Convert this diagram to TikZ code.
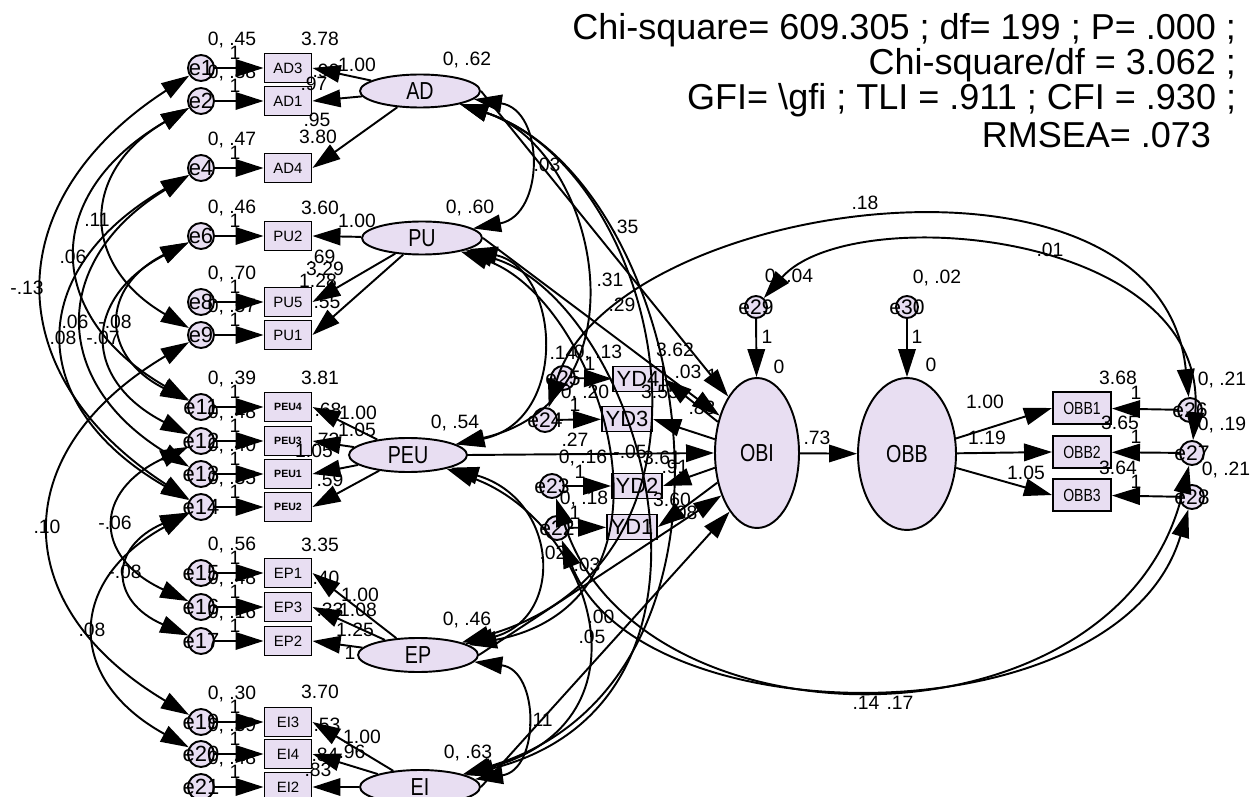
\documentclass[tikz,border=0pt]{standalone}
\usepackage{fontspec}
\setmainfont{Liberation Sans}
\newfontfamily\narrowfont[FakeStretch=0.8]{Liberation Sans}
\usetikzlibrary{arrows.meta,shapes.geometric}
\definecolor{lav}{RGB}{232,222,242}
\begin{document}
\begin{tikzpicture}[x=0.02cm,y=-0.02cm,line width=1.1pt,
  >={Triangle[length=5.6mm,width=3.5mm]},
  every node/.style={font=\fontsize{11}{12}\selectfont, inner sep=0pt},
  lat/.style={ellipse,draw,fill=lav,minimum width=24mm,minimum height=6.6mm,font=\narrowfont\fontsize{14}{15}\selectfont},
  big/.style={ellipse,draw,fill=lav,minimum width=16.8mm,minimum height=30mm,font=\narrowfont\fontsize{14}{15}\selectfont},
  obs/.style={rectangle,draw,fill=lav,minimum width=9.4mm,minimum height=5.8mm,font=\fontsize{8.5}{9}\selectfont},
  pobs/.style={obs,font=\fontsize{6}{7}\selectfont\bfseries},
  yd/.style={rectangle,draw,fill=lav,minimum width=10mm,minimum height=5mm,font=\fontsize{12.5}{13}\selectfont},
  ob/.style={rectangle,draw,fill=lav,minimum width=11.6mm,minimum height=6.4mm,font=\narrowfont\fontsize{10}{11}\selectfont},
  err/.style={circle,draw,fill=lav,minimum size=5.2mm,label={[font=\fontsize{12.5}{13}\selectfont]center:#1}},
  serr/.style={circle,draw,fill=lav,minimum size=4.6mm,label={[font=\fontsize{12}{13}\selectfont]center:#1}},
  head/.style={anchor=east,font=\fontsize{20.5}{22}\selectfont}
]
\fill[white] (0,0) rectangle (1251,797);
\useasboundingbox (0,0) rectangle (1251,797);

% header
\node[head] (h1) at (1237,30) {Chi-square= 609.305 ; df= 199 ; P= .000 ;};
\node[head] (h2) at (1237,65) {Chi-square/df = 3.062 ;};
\node[head] (h3) at (1237,100) {GFI= \textbackslash gfi ; TLI = .911 ; CFI = .930 ;};
\node[head] (h4) at (1212,135) {RMSEA= .073};

% latent variables
\node[lat] (AD) at (420,91) {AD};
\node[lat] (PU) at (422,238) {PU};
\node[lat,minimum width=23.6mm,minimum height=6.8mm] (PEU) at (408,455) {PEU};
\node[lat,minimum height=6.8mm] (EP) at (418,655) {EP};
\node[lat,minimum height=6.8mm] (EI) at (420,787) {EI};
\node[big] (OBI) at (757,453) {OBI};
\node[big,minimum width=19.6mm,minimum height=30.4mm] (OBB) at (907,454) {OBB};

% left indicators and errors
\foreach \n/\b/\y/\v in {1/AD3/68/.45, 2/AD1/101/.38, 4/AD4/168/.47, 6/PU2/236/.46, 8/PU5/302/.70, 9/PU1/335/.57,
  15/EP1/573/.56, 16/EP3/607/.48, 17/EP2/641/.16, 19/EI3/722/.30, 20/EI4/754/.39, 21/EI2/787/.48} {
  \node[err=e\n] (e\n) at (201,\y) {};
  \node[obs] (\b) at (288,\y) {\b};
  \draw[->] (e\n) -- (\b);
}
\foreach \n/\b/\y/\v in {11/PEU4/407/.39, 12/PEU3/441/.48, 13/PEU1/474/.40, 14/PEU2/507/.35} {
  \node[err=e\n] (e\n) at (201,\y) {};
  \node[pobs] (\b) at (288,\y) {\b};
  \draw[->] (e\n) -- (\b);
}

% loadings
\foreach \l/\b in {AD/AD3, AD/AD1, AD/AD4, PU/PU2, PU/PU5, PU/PU1, PEU/PEU4, PEU/PEU3, PEU/PEU1, PEU/PEU2,
  EP/EP1, EP/EP3, EP/EP2, EI/EI3, EI/EI4, EI/EI2}
  \draw[->] (\l) -- (\b.east);

% error covariances on the left
\draw[<->] (e1) .. controls (-3,200) and (-3,375) .. (e14);
\draw[<->] (e2) .. controls (42,193) and (42,315) .. (e11);
\draw[<->] (e2) .. controls (80,171) and (80,265) .. (e9);
\draw[<->] (e4) .. controls (50,260) and (50,382) .. (e13);
\draw[<->] (e6) .. controls (100,287) and (100,356) .. (e11);
\draw[<->] (e4) .. controls (24,270) and (24,405) .. (e14);
\draw[<->] (e6) .. controls (82,298) and (82,380) .. (e12);
\draw[<->] (e9) .. controls (6,451) and (6,606) .. (e19);
\draw[<->] (e12) .. controls (93,491) and (93,557) .. (e16);
\draw[<->] (e14) .. controls (109,547) and (109,601) .. (e17);
\draw[<->] (e14) .. controls (66,581) and (66,680) .. (e20);

% OBI indicators
\node[yd] (YD4) at (638,379) {YD4};
\node[yd] (YD3) at (627,419) {YD3};
\node[yd] (YD2) at (637,486) {YD2};
\node[yd] (YD1) at (632,527) {YD1};
\node[serr=e25,minimum size=4.8mm] (e25) at (563,378) {};
\node[serr=e24,minimum size=4.8mm] (e24) at (545,420) {};
\node[serr=e23,minimum size=4.8mm] (e23) at (552,486) {};
\node[serr=e22,minimum size=4.8mm] (e22) at (557,528) {};
\draw[->] (e25) -- (YD4);
\draw[->] (e24) -- (YD3);
\draw[->] (e23) -- (YD2);
\draw[->] (e22) -- (YD1);

% OBB indicators
\node[ob] (OBB1) at (1082,408) {OBB1};
\node[ob] (OBB2) at (1082,452) {OBB2};
\node[ob] (OBB3) at (1082,495) {OBB3};
\node[serr=e26,minimum size=4.8mm] (e26) at (1190,410) {};
\node[serr=e27,minimum size=4.8mm] (e27) at (1192,453) {};
\node[serr=e28,minimum size=4.8mm] (e28) at (1192,497) {};
\node[serr=e29,minimum size=4.4mm] (e29) at (756,307) {};
\node[serr=e30,minimum size=4.4mm] (e30) at (907,307) {};

% latent covariances
\draw[<->] (AD) .. controls (545,110) and (545,215) .. (PU);
\draw[<->] (AD) .. controls (600,150) and (650,400) .. (PEU);
\draw[<->] (AD) .. controls (660,170) and (750,560) .. (EP);
\draw[<->] (AD) .. controls (690,180) and (780,680) .. (EI);
\draw[<->] (PU) .. controls (560,270) and (570,420) .. (PEU);
\draw[<->] (PU) .. controls (600,300) and (700,600) .. (EP);
\draw[<->] (PU) .. controls (640,300) and (760,700) .. (EI);
\draw[<->] (PEU) .. controls (560,500) and (565,620) .. (EP);
\draw[<->] (PEU) .. controls (590,520) and (660,720) .. (EI);
\draw[<->] (EP) .. controls (540,670) and (540,770) .. (EI);

% structural paths
\draw[->] (AD.east) -- (OBI.117);
\draw[->] (PU.east) -- (OBI.135);
\draw[->] (PEU.east) -- (OBI.west);
\draw[->] (EP.east) -- (OBI.230);
\draw[->] (EI.east) -- (OBI.245);
\draw[->] (OBI) -- (YD4.east);
\draw[->] (OBI) -- (YD3.east);
\draw[->] (OBI) -- (YD2.east);
\draw[->] (OBI) -- (YD1.east);
\draw[->] (e29) -- (OBI);
\draw[->] (e30) -- (OBB);
\draw[->] (OBI) -- (OBB);
\draw[->] (OBB) -- (OBB1.west);
\draw[->] (OBB) -- (OBB2.west);
\draw[->] (OBB) -- (OBB3.west);
\draw[->] (e26) -- (OBB1);
\draw[->] (e27) -- (OBB2);
\draw[->] (e28) -- (OBB3);

% long error covariances
\draw[<->] (e24) .. controls (610,200) and (1160,120) .. (e26);
\draw[<->] (e29) .. controls (850,200) and (1210,230) .. (e27);
\draw[<->] (e23) .. controls (640,756) and (1120,756) .. (e27);
\draw[<->] (e22) .. controls (640,740) and (1120,740) .. (e28);

% labels: left error variances and fixed weights
\foreach \y/\v [count=\i] in {68/.45, 101/.38, 168/.47, 236/.46, 302/.70, 335/.57, 407/.39, 441/.48, 474/.40, 507/.35,
  573/.56, 607/.48, 641/.16, 722/.30, 754/.39, 787/.48} {
  \node (va\i) at (232,\y-28) {0, \v};
  \node (on\i) at (235,\y-15) {1};
}

% labels: other estimates
\foreach \x/\y/\t [count=\i] in {
  467/60/{0, .62}, 470/208/{0, .60}, 455/423/{0, .54}, 467/620/{0, .46}, 468/753/{0, .63},
  320/39/3.78, 326/71/.90, 357/65/1.00, 314/84/.97, 317/120/.95, 318/137/3.80,
  320/208/3.60, 357/221/1.00, 322/257/.69, 325/269/3.29, 318/281/1.28, 327/302/.55,
  320/378/3.81, 328/410/.68, 358/413/1.00, 357/430/1.05, 326/440/.73, 314/451/1.05, 330/480/.59,
  320/545/3.35, 326/578/.40, 360/595/1.00, 330/610/.33, 358/610/1.08, 355/630/1.25, 350/653/1,
  320/692/3.70, 327/725/.53, 362/737/1.00, 325/755/.84, 352/752/.96, 318/770/.83,
  547/165/.03, 625/227/.35, 610/280/.31, 622/305/.29, 553/553/.02, 587/565/.03, 601/617/.00, 592/637/.05, 540/720/.11,
  563/353/.14, 598/353/{0, .13}, 590/364/1, 675/350/3.62, 688/372/.03, 712/376/1,
  585/393/{0, .20}, 575/405/1, 660/392/3.55, 702/408/.83, 575/440/.27, 583/458/{0, .16},
  630/452/-.05, 662/458/3.61, 675/467/.91, 580/472/1, 584/499/{0, .18}, 672/500/3.60, 575/513/1, 684/513/.08,
  789/277/{0, .04}, 767/337/1, 779/367/0, 937/278/{0, .02}, 917/337/1, 931/365/0,
  817/438/.73, 985/402/1.00, 987/438/1.19, 1026/473/1.05,
  1118/378/3.68, 1120/423/3.65, 1118/468/3.64, 1136/393/1, 1136/437/1, 1136/482/1,
  1222/380/{0, .21}, 1222/425/{0, .19}, 1226/470/{0, .21},
  865/203/.18, 1050/250/.01, 866/703/.14, 900/703/.17,
  27/288/-.13, 73/257/.06, 97/220/.11, 75/322/.06, 115/322/-.08, 63/338/.08, 103/338/-.07,
  47/527/.10, 115/523/-.06, 125/572/-.08, 92/630/.08}
  \node (lb\i) at (\x,\y) {\t};
\end{tikzpicture}
\end{document}
